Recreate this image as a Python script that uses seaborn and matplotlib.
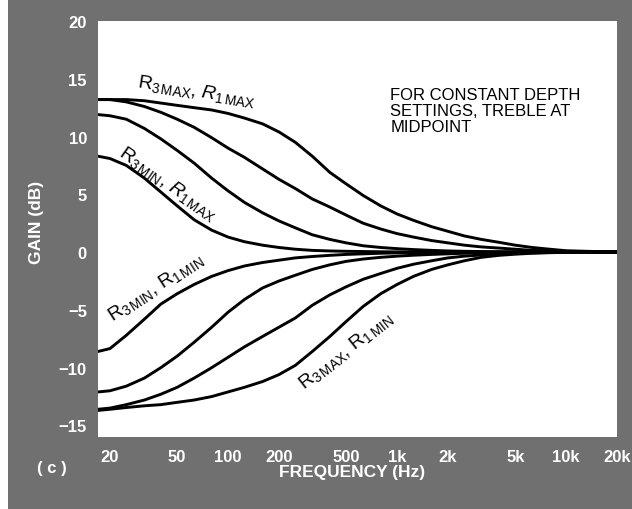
import numpy as np
import pandas as pd
import matplotlib
matplotlib.use("Agg")
import matplotlib.pyplot as plt
from matplotlib.patches import Rectangle
import seaborn as sns

sns.set_theme(style="white")
plt.rcParams['font.family'] = ['Liberation Sans', 'DejaVu Sans']
plt.rcParams['mathtext.fontset'] = 'custom'
plt.rcParams['mathtext.rm'] = 'Liberation Sans'
plt.rcParams['mathtext.it'] = 'Liberation Sans:italic'

# frequency points (Hz)
freqs = [17, 20, 25, 32, 40, 50, 63, 80, 100, 125, 160, 200, 250, 315, 400,
         500, 630, 800, 1000, 1250, 1600, 2000, 2500, 3150, 4000, 5000, 6300,
         8000, 10000, 20000]

# boost curves (dB)
r3max_r1max = [13.2, 13.2, 13.2, 13.1, 12.9, 12.7, 12.5, 12.3, 12.0, 11.6, 11.1,
               10.4, 9.5, 8.3, 6.9, 5.9, 4.9, 4.0, 3.3, 2.75, 2.2, 1.8, 1.4, 1.1,
               0.85, 0.6, 0.4, 0.25, 0.12, 0.0]
boost_2 = [13.2, 13.2, 13.0, 12.6, 12.1, 11.5, 10.8, 9.9, 9.0, 8.2, 7.2, 6.3, 5.5,
           4.6, 3.9, 3.2, 2.5, 2.0, 1.6, 1.3, 1.0, 0.8, 0.6, 0.45, 0.35, 0.25,
           0.15, 0.1, 0.05, 0.0]
boost_3 = [11.9, 11.8, 11.5, 10.7, 9.8, 8.8, 7.7, 6.4, 5.3, 4.3, 3.4, 2.7, 2.1, 1.5,
           1.1, 0.8, 0.55, 0.4, 0.3, 0.22, 0.15, 0.1, 0.07, 0.05, 0.03, 0.02,
           0.01, 0.0, 0.0, 0.0]
r3min_r1max = [8.3, 8.1, 7.5, 6.4, 5.2, 4.0, 2.8, 1.9, 1.3, 0.9, 0.6, 0.4, 0.25,
               0.15, 0.1, 0.07, 0.05, 0.03, 0.02, 0.01, 0.01, 0.0, 0.0, 0.0, 0.0,
               0.0, 0.0, 0.0, 0.0, 0.0]

# cut curves (dB)
r3min_r1min = [-8.6, -8.35, -7.2, -5.8, -4.5, -3.6, -2.8, -2.1, -1.6, -1.2, -0.9,
               -0.7, -0.5, -0.38, -0.28, -0.2, -0.15, -0.1, -0.07, -0.05, -0.03,
               -0.02, -0.01, -0.01, 0.0, 0.0, 0.0, 0.0, 0.0, 0.0]
cut_2 = [-12.1, -12.0, -11.6, -10.9, -10.0, -9.0, -7.8, -6.5, -5.2, -4.1, -3.1,
         -2.5, -2.0, -1.5, -1.1, -0.8, -0.6, -0.45, -0.35, -0.27, -0.2, -0.15,
         -0.1, -0.07, -0.05, -0.03, -0.02, -0.01, 0.0, 0.0]
cut_3 = [-13.6, -13.5, -13.2, -12.8, -12.3, -11.7, -10.9, -10.0, -9.1, -8.2, -7.3,
         -6.5, -5.7, -4.6, -3.7, -3.0, -2.35, -1.85, -1.4, -1.05, -0.75, -0.5,
         -0.35, -0.25, -0.17, -0.1, -0.06, -0.03, -0.02, 0.0]
r3max_r1min = [-13.7, -13.6, -13.45, -13.3, -13.2, -13.0, -12.8, -12.5, -12.1,
               -11.7, -11.2, -10.6, -9.8, -8.6, -7.3, -6.0, -4.7, -3.6, -2.8,
               -2.1, -1.5, -1.1, -0.75, -0.45, -0.28, -0.18, -0.1, -0.05, -0.02,
               0.0]

curves = [r3max_r1max, boost_2, boost_3, r3min_r1max,
          r3min_r1min, cut_2, cut_3, r3max_r1min]

x_ticks = [20, 50, 100, 200, 500, 1000, 2000, 5000, 10000, 20000]
x_tick_labels = ['20', '50', '100', '200', '500', '1k', '2k', '5k', '10k', '20k']
y_ticks = [-15, -10, -5, 0, 5, 10, 15, 20]

gray = '#707070'

fig = plt.figure(figsize=(6.32, 5.10), dpi=100)
fig.patch.set_facecolor('white')
fig.patches.append(Rectangle((8 / 632, 0), 1, 1, transform=fig.transFigure,
                             facecolor=gray, edgecolor='none', zorder=-10))
ax = fig.add_axes([98 / 632, 72 / 510, 519 / 632, 416 / 510])
ax.set_facecolor('white')

for vals in curves:
    sns.lineplot(x=freqs, y=vals, color='black', linewidth=2.1, ax=ax,
                 solid_capstyle='round', solid_joinstyle='round')

ax.set_xscale('log')
ax.set_xlim(17, 20000)
ax.set_ylim(-16, 20)
ax.set_xticks(x_ticks)
ax.set_xticklabels(x_tick_labels)
ax.set_yticks(y_ticks)
ax.minorticks_off()
ax.tick_params(axis='both', direction='in', length=7, width=1, color='#999999',
               labelcolor='white', labelsize=12)
ax.tick_params(axis='x', pad=9)
ax.tick_params(axis='y', pad=8)
for lab in ax.get_xticklabels() + ax.get_yticklabels():
    lab.set_fontweight('bold')
for s in ax.spines.values():
    s.set_visible(False)
ax.set_xlabel('')
ax.set_ylabel('')

fig.text(352 / 632, 1 - 473 / 510, 'FREQUENCY (Hz)', color='white', fontsize=12.5,
         fontweight='bold', ha='center', va='center')
fig.text(36 / 632, 1 - 222 / 510, 'GAIN (dB)', color='white', fontsize=12.5,
         fontweight='bold', ha='center', va='center', rotation=90)
fig.text(52 / 632, 1 - 469 / 510, '( c )', color='white', fontsize=12,
         fontweight='bold', ha='center', va='center')

ax.text(912, 14.3, 'FOR CONSTANT DEPTH\nSETTINGS, TREBLE AT\nMIDPOINT',
        fontsize=12, color='black', ha='left', va='top', linespacing=1.1)

lab_kw = dict(fontsize=14, color='black', ha='center', va='center',
              rotation_mode='anchor')
ax.text(65, 14.0, r'R$_{3\,\mathrm{MAX}}$, $\mathit{R}_{1\,\mathrm{MAX}}$',
        rotation=-9, **lab_kw)
ax.text(44, 6.0, r'R$_{3\,\mathrm{MIN}}$, $\mathit{R}_{1\,\mathrm{MAX}}$',
        rotation=-35, **lab_kw)
ax.text(37, -3.0, r'R$_{3\,\mathrm{MIN}}$, R$_{1\,\mathrm{MIN}}$',
        rotation=33, **lab_kw)
ax.text(500, -8.5, r'R$_{3\,\mathrm{MAX}}$, R$_{1\,\mathrm{MIN}}$',
        rotation=38, **lab_kw)

fig.savefig('out.png', dpi=100, facecolor=fig.get_facecolor())
